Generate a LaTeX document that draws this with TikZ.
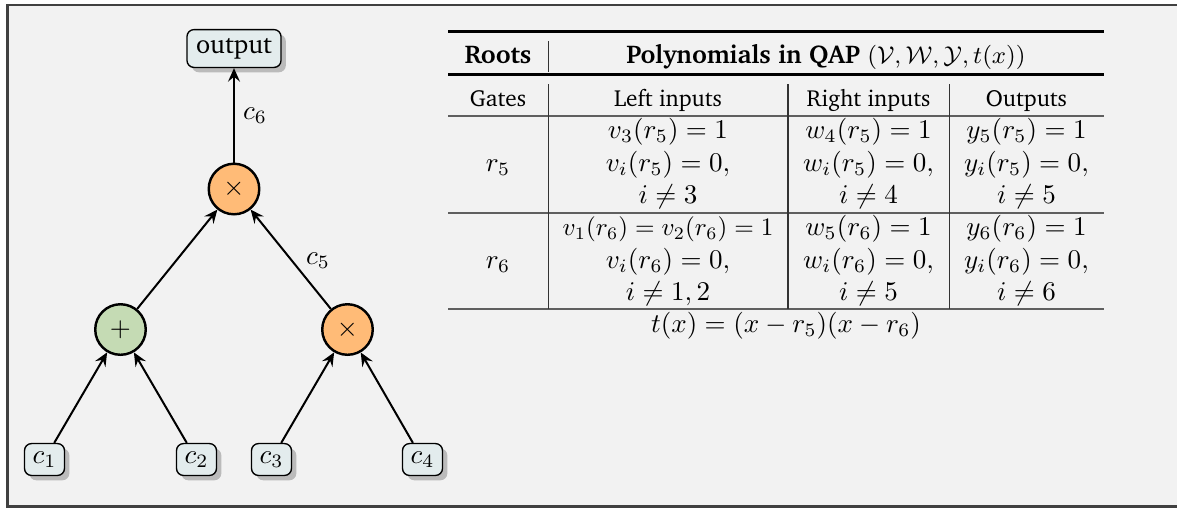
\documentclass[tikz,border=0pt]{standalone}
\usepackage[T1]{fontenc}
\usepackage{charter}
\usetikzlibrary{arrows.meta,shadows}
\definecolor{framec}{RGB}{64,64,64}
\definecolor{bgc}{RGB}{242,242,242}
\definecolor{boxc}{RGB}{227,236,237}
\definecolor{orangec}{RGB}{255,187,119}
\definecolor{greenc}{RGB}{197,219,180}
\definecolor{rulec}{RGB}{95,95,95}
\definecolor{shadowc}{RGB}{187,187,187}
\begin{document}
\begin{tikzpicture}[x=0.37pt,y=-0.37pt,
  wire/.style={line width=0.74pt,-{Stealth[length=5pt,width=4.4pt,inset=1.8pt]}},
  shadowed/.style={drop shadow={shadow xshift=1.8pt,shadow yshift=-1.8pt,fill=shadowc,opacity=1}},
  inbox/.style={draw,line width=0.5pt,rounded corners=2.6pt,fill=boxc,inner sep=0pt,shadowed},
  gate/.style={circle,draw,line width=0.9pt,minimum size=18.7pt,inner sep=0pt},
  lbl/.style={inner sep=0pt},
  cell/.style={inner sep=0pt,anchor=base},
  headtext/.style={cell,font=\fontsize{9.5}{11.4}\selectfont},
  bodytext/.style={cell,font=\fontsize{8.6}{10.3}\selectfont},
  thickrule/.style={line width=1.1pt},
  thinrule/.style={line width=0.5pt,rulec},
  vrule/.style={line width=0.5pt,black!80}
]
\useasboundingbox (0,0) rectangle (1177,508);
\fill[white] (0,0) rectangle (1177,508);
\draw[framec,line width=0.9pt,fill=bgc] (7.5,5) rectangle (1200,506.5);

% ---- circuit ----
\node[inbox,minimum width=34.8pt,minimum height=14pt,font=\fontsize{9.7}{11.6}\selectfont] (out) at (234,48.5) {output};
\node[gate,fill=orangec] (m1) at (234,189) {$\times$};
\node[gate,fill=greenc] (pl) at (120.5,329.5) {$+$};
\node[gate,fill=orangec] (m2) at (347.5,329.5) {$\times$};
\node[inbox,minimum width=14.8pt,minimum height=11.8pt] (c1) at (44.5,459.5) {$c_1$};
\node[inbox,minimum width=14.8pt,minimum height=11.8pt] (c2) at (196.5,459.5) {$c_2$};
\node[inbox,minimum width=14.8pt,minimum height=11.8pt] (c3) at (271.5,459.5) {$c_3$};
\node[inbox,minimum width=14.8pt,minimum height=11.8pt] (c4) at (422.5,459.5) {$c_4$};
\draw[wire] (c1) -- (pl);
\draw[wire] (c2) -- (pl);
\draw[wire] (c3) -- (m2);
\draw[wire] (c4) -- (m2);
\draw[wire] (pl) -- (m1);
\draw[wire] (m2) -- (m1);
\draw[wire] (m1) -- (out);
\node[lbl] (l6) at (255,116) {$c_6$};
\node[lbl] (l5) at (318,261) {$c_5$};

% ---- table ----
\draw[thickrule] (448,31) -- (1104,31);
\draw[thickrule] (448,74.5) -- (1104,74.5);
\draw[thinrule] (448,116) -- (1104,116);
\draw[thinrule] (448,213) -- (1104,213);
\draw[thinrule] (448,309) -- (1104,309);
\draw[vrule] (548.7,41) -- (548.7,72);
\draw[vrule] (548.7,84) -- (548.7,309);
\draw[vrule] (788,84) -- (788,309);
\draw[vrule] (949.3,84) -- (949.3,309);

\node[headtext] (hroots) at (498,63) {\bfseries Roots};
\node[headtext] (hpoly) at (826,63) {\textbf{Polynomials in QAP} $(\mathcal{V},\mathcal{W},\mathcal{Y},t(x))$};
\node[bodytext] (hgates) at (498,106) {Gates};
\node[bodytext] (hleft) at (668,106) {Left inputs};
\node[bodytext] (hright) at (868.5,106) {Right inputs};
\node[bodytext] (hout) at (1026.5,106) {Outputs};

\node[cell] (g5) at (498,171.1) {$r_5$};
\node[cell] (a1) at (668,138.7) {$v_3(r_5)=1$};
\node[cell] (a2) at (668,171.1) {$v_i(r_5)=0,$};
\node[cell] (a3) at (668,203.5) {$i\neq 3$};
\node[cell] (b1) at (868.5,138.7) {$w_4(r_5)=1$};
\node[cell] (b2) at (868.5,171.1) {$w_i(r_5)=0,$};
\node[cell] (b3) at (868.5,203.5) {$i\neq 4$};
\node[cell] (d1) at (1026.5,138.7) {$y_5(r_5)=1$};
\node[cell] (d2) at (1026.5,171.1) {$y_i(r_5)=0,$};
\node[cell] (d3) at (1026.5,203.5) {$i\neq 5$};

\node[cell] (g6) at (498,268.1) {$r_6$};
\node[cell] (e1) at (668,235.7) {\scalebox{0.93}{$v_1(r_6)=v_2(r_6)=1$}};
\node[cell] (e2) at (668,268.1) {$v_i(r_6)=0,$};
\node[cell] (e3) at (668,300.5) {$i\neq 1,2$};
\node[cell] (f1) at (868.5,235.7) {$w_5(r_6)=1$};
\node[cell] (f2) at (868.5,268.1) {$w_i(r_6)=0,$};
\node[cell] (f3) at (868.5,300.5) {$i\neq 5$};
\node[cell] (h1) at (1026.5,235.7) {$y_6(r_6)=1$};
\node[cell] (h2) at (1026.5,268.1) {$y_i(r_6)=0,$};
\node[cell] (h3) at (1026.5,300.5) {$i\neq 6$};

\node[cell] (tx) at (786,332) {$t(x)=(x-r_5)(x-r_6)$};
\end{tikzpicture}
\end{document}
